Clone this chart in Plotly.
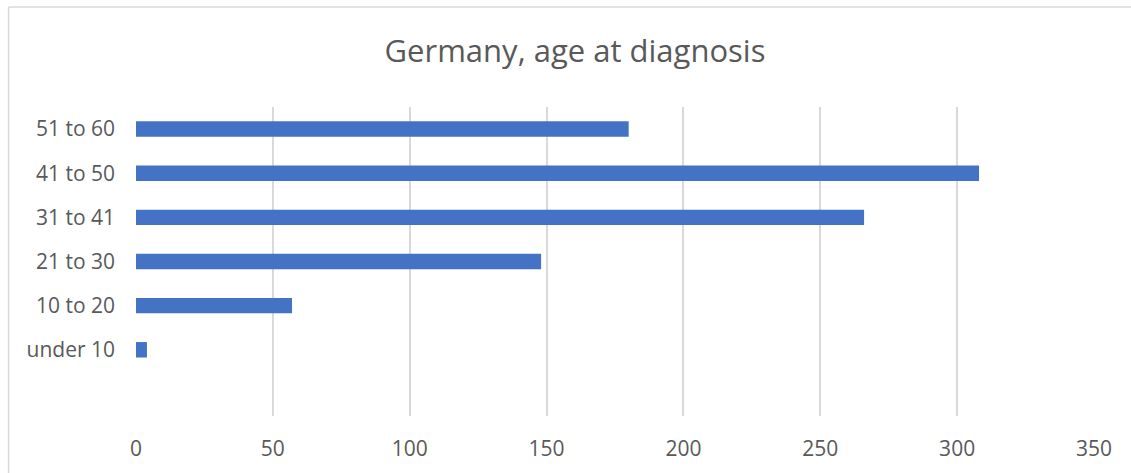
import plotly.graph_objects as go

categories = ["under 10", "10 to 20", "21 to 30", "31 to 41", "41 to 50", "51 to 60"]
values = [4, 57, 148, 266, 308, 180]
x_ticks = [0, 50, 100, 150, 200, 250, 300, 350]

W, H = 1131, 473
L, R, T, B = 135.5, 1094, 107, 416

fig = go.Figure(go.Bar(
    x=values, y=categories, orientation="h",
    marker=dict(color="#4472C4", line=dict(width=0)),
    width=0.35,
))

fig.update_layout(
    width=W, height=H,
    margin=dict(l=L, r=W - R, t=T, b=H - B, autoexpand=False),
    paper_bgcolor="white", plot_bgcolor="white",
    showlegend=False,
    font=dict(family="Open Sans, Liberation Sans, sans-serif", color="#595959", size=21),
    title=dict(text="Germany, age at diagnosis", x=575 / W, xanchor="center",
               y=1 - 51 / H, yanchor="middle",
               font=dict(size=31, color="#595959")),
    xaxis=dict(range=[0, 350], tickvals=x_ticks, showgrid=True, gridcolor="#d9d9d9",
               gridwidth=1.5, zeroline=False, showline=False, ticks="",
               ticklabelstandoff=18, tickfont=dict(size=21, color="#595959"),
               fixedrange=True),
    yaxis=dict(type="category", categoryorder="array", categoryarray=categories,
               range=[-1.5, 5.5], showgrid=False, zeroline=False, showline=False,
               ticks="", ticklabelstandoff=20, tickfont=dict(size=21, color="#595959"),
               fixedrange=True),
    shapes=[
        dict(type="line", xref="paper", yref="paper",
             x0=(8 - L) / (R - L), x1=(W + 5 - L) / (R - L),
             y0=(B - 7) / (B - T), y1=(B - 7) / (B - T),
             line=dict(color="#d9d9d9", width=1.5)),
        dict(type="line", xref="paper", yref="paper",
             x0=(8 - L) / (R - L), x1=(8 - L) / (R - L),
             y0=(B - 7) / (B - T), y1=(B - H - 5) / (B - T),
             line=dict(color="#d9d9d9", width=1.5)),
    ],
)

fig.write_html("out.html", config={"displayModeBar": False},
               post_script="document.body.style.margin='0px';document.body.style.overflow='hidden';")
